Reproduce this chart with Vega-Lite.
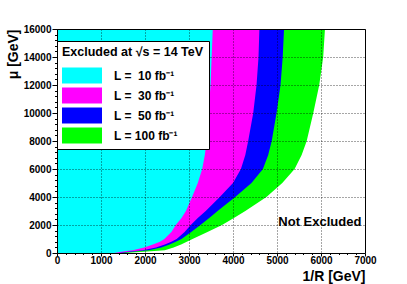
{
  "$schema": "https://vega.github.io/schema/vega-lite/v6.json",
  "width": 308,
  "height": 224,
  "autosize": {"type": "none"},
  "padding": {"left": 57, "top": 29, "right": 42, "bottom": 31},
  "background": "white",
  "config": {
    "view": {"stroke": null},
    "font": "Liberation Sans",
    "legend": {
      "orient": "none", "legendX": 0, "legendY": 12,
      "fillColor": "white", "strokeColor": "black",
      "padding": 5,
      "titleFont": "Liberation Sans", "titleFontSize": 12.5, "titleFontWeight": "bold", "titleColor": "black", "titlePadding": 9, "titleLimit": 300,
      "labelFont": "Liberation Sans", "labelFontSize": 12, "labelFontWeight": "bold", "labelColor": "black", "labelOffset": 36, "labelLimit": 200,
      "symbolType": "M-1,-1H4V1H-1Z", "symbolSize": 256, "symbolStrokeWidth": 0, "symbolOpacity": 1,
      "rowPadding": 4, "zindex": 2
    }
  },
  "datasets": {
    "bounds": [
      {"L": 10, "mu": 0, "invR": 1300}, {"L": 10, "mu": 100, "invR": 1500}, {"L": 10, "mu": 200, "invR": 1720}, {"L": 10, "mu": 400, "invR": 1980},
      {"L": 10, "mu": 600, "invR": 2180}, {"L": 10, "mu": 800, "invR": 2340}, {"L": 10, "mu": 1000, "invR": 2440}, {"L": 10, "mu": 1500, "invR": 2600},
      {"L": 10, "mu": 2000, "invR": 2700}, {"L": 10, "mu": 2500, "invR": 2830}, {"L": 10, "mu": 3000, "invR": 2930}, {"L": 10, "mu": 4000, "invR": 3070},
      {"L": 10, "mu": 5000, "invR": 3200}, {"L": 10, "mu": 6000, "invR": 3300}, {"L": 10, "mu": 7000, "invR": 3360}, {"L": 10, "mu": 8000, "invR": 3400},
      {"L": 10, "mu": 10000, "invR": 3440}, {"L": 10, "mu": 12000, "invR": 3490}, {"L": 10, "mu": 14000, "invR": 3515}, {"L": 10, "mu": 16000, "invR": 3540},
      {"L": 30, "mu": 0, "invR": 1400}, {"L": 30, "mu": 100, "invR": 1650}, {"L": 30, "mu": 200, "invR": 1950}, {"L": 30, "mu": 400, "invR": 2250},
      {"L": 30, "mu": 600, "invR": 2450}, {"L": 30, "mu": 800, "invR": 2600}, {"L": 30, "mu": 1000, "invR": 2720}, {"L": 30, "mu": 1500, "invR": 2900},
      {"L": 30, "mu": 2000, "invR": 3040}, {"L": 30, "mu": 2500, "invR": 3200}, {"L": 30, "mu": 3000, "invR": 3380}, {"L": 30, "mu": 4000, "invR": 3700},
      {"L": 30, "mu": 5000, "invR": 4000}, {"L": 30, "mu": 6000, "invR": 4180}, {"L": 30, "mu": 7000, "invR": 4280}, {"L": 30, "mu": 8000, "invR": 4345},
      {"L": 30, "mu": 10000, "invR": 4460}, {"L": 30, "mu": 12000, "invR": 4535}, {"L": 30, "mu": 14000, "invR": 4580}, {"L": 30, "mu": 16000, "invR": 4600},
      {"L": 50, "mu": 0, "invR": 1450}, {"L": 50, "mu": 100, "invR": 1750}, {"L": 50, "mu": 200, "invR": 2080}, {"L": 50, "mu": 400, "invR": 2370},
      {"L": 50, "mu": 600, "invR": 2560}, {"L": 50, "mu": 800, "invR": 2700}, {"L": 50, "mu": 1000, "invR": 2830}, {"L": 50, "mu": 1500, "invR": 3050},
      {"L": 50, "mu": 2000, "invR": 3260}, {"L": 50, "mu": 2500, "invR": 3460}, {"L": 50, "mu": 3000, "invR": 3650}, {"L": 50, "mu": 4000, "invR": 4050},
      {"L": 50, "mu": 5000, "invR": 4420}, {"L": 50, "mu": 6000, "invR": 4680}, {"L": 50, "mu": 7000, "invR": 4800}, {"L": 50, "mu": 8000, "invR": 4880},
      {"L": 50, "mu": 10000, "invR": 4990}, {"L": 50, "mu": 12000, "invR": 5080}, {"L": 50, "mu": 14000, "invR": 5130}, {"L": 50, "mu": 16000, "invR": 5160},
      {"L": 100, "mu": 0, "invR": 1550}, {"L": 100, "mu": 100, "invR": 2050}, {"L": 100, "mu": 200, "invR": 2450}, {"L": 100, "mu": 400, "invR": 2650},
      {"L": 100, "mu": 600, "invR": 2820}, {"L": 100, "mu": 800, "invR": 2950}, {"L": 100, "mu": 1000, "invR": 3080}, {"L": 100, "mu": 1500, "invR": 3420},
      {"L": 100, "mu": 2000, "invR": 3750}, {"L": 100, "mu": 2500, "invR": 4020}, {"L": 100, "mu": 3000, "invR": 4280}, {"L": 100, "mu": 4000, "invR": 4760},
      {"L": 100, "mu": 5000, "invR": 5120}, {"L": 100, "mu": 6000, "invR": 5400}, {"L": 100, "mu": 7000, "invR": 5560}, {"L": 100, "mu": 8000, "invR": 5675},
      {"L": 100, "mu": 10000, "invR": 5825}, {"L": 100, "mu": 12000, "invR": 5960}, {"L": 100, "mu": 14000, "invR": 6050}, {"L": 100, "mu": 16000, "invR": 6090}
    ],
    "notes": [{"note": "Not Excluded", "invR": 5030, "mu": 2190}]
  },
  "resolve": {"axis": {"x": "independent", "y": "independent"}},
  "layer": [
    {
      "data": {"name": "bounds"},
      "transform": [{"filter": "datum.L === 100"}],
      "mark": {"type": "area", "orient": "horizontal", "clip": true, "opacity": 1},
      "encoding": {
        "y": {"field": "mu", "type": "quantitative", "scale": {"domain": [0, 16000], "nice": false, "zero": true},
          "axis": {
            "title": "μ [GeV]", "titleAnchor": "end", "titleFontSize": 14, "titleFontWeight": "bold", "titleColor": "black", "titlePadding": 3,
            "values": [0,400,800,1200,1600,2000,2400,2800,3200,3600,4000,4400,4800,5200,5600,6000,6400,6800,7200,7600,8000,8400,8800,9200,9600,10000,10400,10800,11200,11600,12000,12400,12800,13200,13600,14000,14400,14800,15200,15600,16000],
            "format": "d", "labelExpr": "datum.value % 2000 === 0 ? datum.label : ''",
            "labelFontSize": 10, "labelFontWeight": "bold", "labelColor": "black", "labelPadding": 1, "labelFlush": false, "labelOverlap": false,
            "tickSize": {"condition": {"test": "datum.value % 2000 === 0", "value": 5}, "value": 2.5}, "tickColor": "black",
            "domainColor": "black",
            "grid": true, "gridColor": "black", "gridDash": [1, 2], "gridOpacity": {"condition": {"test": "datum.value % 2000 === 0", "value": 0.7}, "value": 0},
            "zindex": 1
          }},
        "x": {"field": "invR", "type": "quantitative", "stack": null, "scale": {"domain": [0, 7000], "nice": false, "zero": true},
          "axis": {
            "title": "1/R [GeV]", "titleAnchor": "end", "titleFontSize": 14, "titleFontWeight": "bold", "titleColor": "black", "titlePadding": 4,
            "values": [0,200,400,600,800,1000,1200,1400,1600,1800,2000,2200,2400,2600,2800,3000,3200,3400,3600,3800,4000,4200,4400,4600,4800,5000,5200,5400,5600,5800,6000,6200,6400,6600,6800,7000],
            "format": "d", "labelExpr": "datum.value % 1000 === 0 ? datum.label : ''",
            "labelFontSize": 10, "labelFontWeight": "bold", "labelColor": "black", "labelPadding": -1, "labelFlush": false, "labelOverlap": false,
            "tickSize": {"condition": {"test": "datum.value % 1000 === 0", "value": 3}, "value": 1.5}, "tickColor": "black",
            "domainColor": "black",
            "grid": true, "gridColor": "black", "gridDash": [1, 2], "gridOpacity": {"condition": {"test": "datum.value % 1000 === 0", "value": 0.7}, "value": 0},
            "zindex": 1
          }},
        "color": {"field": "L", "type": "nominal",
          "scale": {"domain": [10, 30, 50, 100], "range": ["#00ffff", "#ff00ff", "#0000ff", "#00ff00"]},
          "legend": {"title": "Excluded at √s = 14 TeV", "labelExpr": "'L = ' + (datum.value < 100 ? '\u00a0' : '') + datum.value + ' fb⁻¹'"}}
      }
    },
    {
      "data": {"name": "bounds"},
      "transform": [{"filter": "datum.L === 50"}],
      "mark": {"type": "area", "orient": "horizontal", "clip": true, "opacity": 1},
      "encoding": {
        "y": {"field": "mu", "type": "quantitative", "scale": {"domain": [0, 16000], "nice": false, "zero": true}, "axis": null},
        "x": {"field": "invR", "type": "quantitative", "stack": null, "scale": {"domain": [0, 7000], "nice": false, "zero": true}, "axis": null},
        "color": {"field": "L", "type": "nominal", "scale": {"domain": [10, 30, 50, 100], "range": ["#00ffff", "#ff00ff", "#0000ff", "#00ff00"]}}
      }
    },
    {
      "data": {"name": "bounds"},
      "transform": [{"filter": "datum.L === 30"}],
      "mark": {"type": "area", "orient": "horizontal", "clip": true, "opacity": 1},
      "encoding": {
        "y": {"field": "mu", "type": "quantitative", "scale": {"domain": [0, 16000], "nice": false, "zero": true}, "axis": null},
        "x": {"field": "invR", "type": "quantitative", "stack": null, "scale": {"domain": [0, 7000], "nice": false, "zero": true}, "axis": null},
        "color": {"field": "L", "type": "nominal", "scale": {"domain": [10, 30, 50, 100], "range": ["#00ffff", "#ff00ff", "#0000ff", "#00ff00"]}}
      }
    },
    {
      "data": {"name": "bounds"},
      "transform": [{"filter": "datum.L === 10"}],
      "mark": {"type": "area", "orient": "horizontal", "clip": true, "opacity": 1},
      "encoding": {
        "y": {"field": "mu", "type": "quantitative", "scale": {"domain": [0, 16000], "nice": false, "zero": true}, "axis": null},
        "x": {"field": "invR", "type": "quantitative", "stack": null, "scale": {"domain": [0, 7000], "nice": false, "zero": true}, "axis": null},
        "color": {"field": "L", "type": "nominal", "scale": {"domain": [10, 30, 50, 100], "range": ["#00ffff", "#ff00ff", "#0000ff", "#00ff00"]}}
      }
    },
    {
      "data": {"name": "notes"},
      "mark": {"type": "text", "align": "left", "baseline": "middle", "fontSize": 13, "fontWeight": "bold", "font": "Liberation Sans", "color": "black"},
      "encoding": {
        "x": {"field": "invR", "type": "quantitative", "scale": {"domain": [0, 7000], "nice": false, "zero": true},
          "axis": {"orient": "top", "domain": true, "domainColor": "black", "ticks": false, "labels": false, "grid": false, "title": null, "zindex": 1}},
        "y": {"field": "mu", "type": "quantitative", "scale": {"domain": [0, 16000], "nice": false, "zero": true},
          "axis": {"orient": "right", "domain": true, "domainColor": "black", "ticks": false, "labels": false, "grid": false, "title": null, "zindex": 1}},
        "text": {"field": "note"}
      }
    }
  ]
}
